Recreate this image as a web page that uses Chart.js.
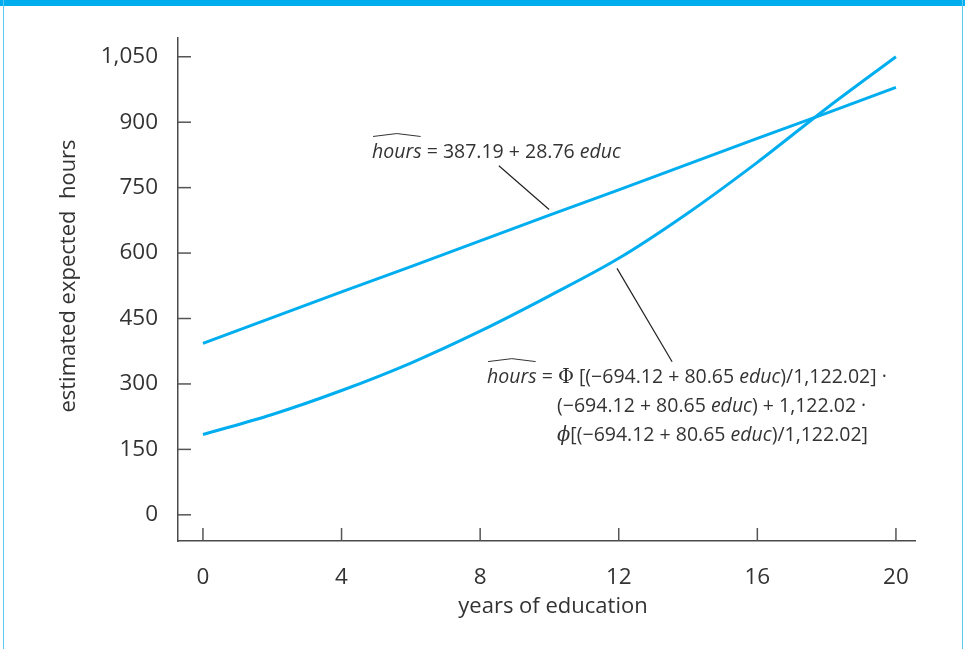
<!DOCTYPE html>
<html>
<head>
<meta charset="utf-8">
<script src="https://cdn.jsdelivr.net/npm/chart.js@4.4.0/dist/chart.umd.min.js"></script>
<style>
  body { margin: 0; background: #fff; }
  #topbar { position: absolute; left: 0; top: 0; width: 965px; height: 6px; background: #00aeef; }
  #lborder { position: absolute; left: 3px; top: 0; width: 1px; height: 649px; background: #5cc8f2; }
  #rborder { position: absolute; left: 962px; top: 0; width: 1px; height: 649px; background: #5cc8f2; }
  canvas { position: absolute; left: 0; top: 0; }
</style>
</head>
<body>
<div id="topbar"></div>
<div id="lborder"></div>
<div id="rborder"></div>
<canvas id="chart" width="965" height="649"></canvas>
<script>
// valeurs
const educ = [0, 2, 4, 6, 8, 10, 12, 14, 16, 18, 20];
const olsHours = [393, 452, 511, 569, 628, 687, 745, 804, 863, 921, 980];
const tobitHours = [184, 230, 285, 348, 421, 502, 588, 692, 808, 932, 1050];
const xTicks = [0, 4, 8, 12, 16, 20];
const yTicks = [0, 150, 300, 450, 600, 750, 900, 1050];

const xTitle = 'years of education';
const yTitle = 'estimated expected  hours';

const cyan = '#00aeef';
const ink = '#333';
const sans = '"Open Sans", sans-serif';
const serif = '"DejaVu Serif", serif';

// Texte des equations (position en unites des axes)
const labels = [
    { x: 4.88, y: 819, parts: [
        { t: 'hours', italic: true, hat: true },
        { t: ' = 387.19 + 28.76 ' },
        { t: 'educ', italic: true }
    ]},
    { x: 8.20, y: 303, parts: [
        { t: 'hours', italic: true, hat: true },
        { t: ' = ' },
        { t: 'Φ', serif: true },
        { t: ' [(−694.12 + 80.65 ' },
        { t: 'educ', italic: true },
        { t: ')/1,122.02] ·' }
    ]},
    { x: 10.22, y: 236, parts: [
        { t: '(−694.12 + 80.65 ' },
        { t: 'educ', italic: true },
        { t: ') + 1,122.02 ·' }
    ]},
    { x: 10.22, y: 170, parts: [
        { t: 'ϕ', serif: true, italic: true },
        { t: '[(−694.12 + 80.65 ' },
        { t: 'educ', italic: true },
        { t: ')/1,122.02]' }
    ]}
];
const leaders = [
    [8.54, 800, 9.99, 700],
    [11.95, 565, 13.54, 351]
];

function drawRich(ctx, parts, x, y, size) {
    let cx = x;
    parts.forEach(p => {
        ctx.font = (p.italic ? 'italic ' : '') + size + 'px ' + (p.serif ? serif : sans);
        const w = ctx.measureText(p.t).width;
        ctx.fillText(p.t, cx, y);
        if (p.hat) {
            ctx.beginPath();
            ctx.moveTo(cx + 1, y - size * 1.08);
            ctx.lineTo(cx + w / 2, y - size * 1.23);
            ctx.lineTo(cx + w - 1, y - size * 1.08);
            ctx.stroke();
        }
        cx += w;
    });
}

const innerTicks = {
    id: 'innerTicks',
    afterDraw(chart) {
        const { ctx, chartArea, scales: { x, y } } = chart;
        ctx.save();
        ctx.strokeStyle = '#555';
        ctx.lineWidth = 1.5;
        xTicks.forEach(v => {
            const px = x.getPixelForValue(v);
            ctx.beginPath();
            ctx.moveTo(px, chartArea.bottom);
            ctx.lineTo(px, chartArea.bottom - 13);
            ctx.stroke();
        });
        yTicks.forEach(v => {
            const py = y.getPixelForValue(v);
            ctx.beginPath();
            ctx.moveTo(chartArea.left, py);
            ctx.lineTo(chartArea.left + 13, py);
            ctx.stroke();
        });
        ctx.restore();
    }
};

// titres des axes places a la main
const axisTitles = {
    id: 'axisTitles',
    afterDraw(chart) {
        const { ctx } = chart;
        ctx.save();
        ctx.fillStyle = ink;
        ctx.font = '22px ' + sans;
        ctx.textAlign = 'center';
        ctx.textBaseline = 'middle';
        ctx.fillText(xTitle, 553, 607);
        ctx.translate(69, 276);
        ctx.rotate(-Math.PI / 2);
        ctx.fillText(yTitle, 0, 0);
        ctx.restore();
    }
};

const equations = {
    id: 'equations',
    afterDraw(chart) {
        const { ctx, scales: { x, y } } = chart;
        ctx.save();
        ctx.strokeStyle = '#222';
        ctx.lineWidth = 1.2;
        leaders.forEach(l => {
            ctx.beginPath();
            ctx.moveTo(x.getPixelForValue(l[0]), y.getPixelForValue(l[1]));
            ctx.lineTo(x.getPixelForValue(l[2]), y.getPixelForValue(l[3]));
            ctx.stroke();
        });
        ctx.fillStyle = ink;
        ctx.strokeStyle = ink;
        ctx.lineWidth = 1;
        ctx.textBaseline = 'alphabetic';
        labels.forEach(lb => {
            drawRich(ctx, lb.parts, x.getPixelForValue(lb.x), y.getPixelForValue(lb.y), 19.5);
        });
        ctx.restore();
    }
};

const ctx = document.getElementById('chart').getContext('2d');
new Chart(ctx, {
    type: 'line',
    data: {
        datasets: [
            {
                label: 'OLS',
                data: educ.map((e, i) => ({ x: e, y: olsHours[i] })),
                borderColor: cyan,
                borderWidth: 3,
                pointRadius: 0,
                fill: false
            },
            {
                label: 'Tobit',
                data: educ.map((e, i) => ({ x: e, y: tobitHours[i] })),
                borderColor: cyan,
                borderWidth: 3,
                pointRadius: 0,
                fill: false,
                cubicInterpolationMode: 'monotone'
            }
        ]
    },
    options: {
        responsive: false,
        animation: false,
        layout: { padding: { top: 38, right: 50, left: 0, bottom: 0 } },
        plugins: { legend: { display: false }, tooltip: { enabled: false } },
        scales: {
            x: {
                type: 'linear',
                min: -0.72,
                max: 20.55,
                afterBuildTicks: s => { s.ticks = xTicks.map(v => ({ value: v })); },
                afterFit: s => { s.height = 108; },
                grid: { display: false, drawTicks: false },
                border: { display: true, color: '#4a4a4a', width: 1.5 },
                ticks: { padding: 23, color: ink, font: { family: sans, size: 22.5 }, maxRotation: 0 },
                title: { display: false }
            },
            y: {
                min: -60,
                max: 1093,
                afterBuildTicks: s => { s.ticks = yTicks.map(v => ({ value: v })); },
                afterFit: s => { s.width = 178; },
                grid: { display: false, drawTicks: false },
                border: { display: true, color: '#4a4a4a', width: 1.5 },
                ticks: { padding: 20, color: ink, font: { family: sans, size: 22.5 },
                         callback: v => v.toLocaleString('en-US') },
                title: { display: false }
            }
        }
    },
    plugins: [innerTicks, axisTitles, equations]
});
</script>
</body>
</html>
